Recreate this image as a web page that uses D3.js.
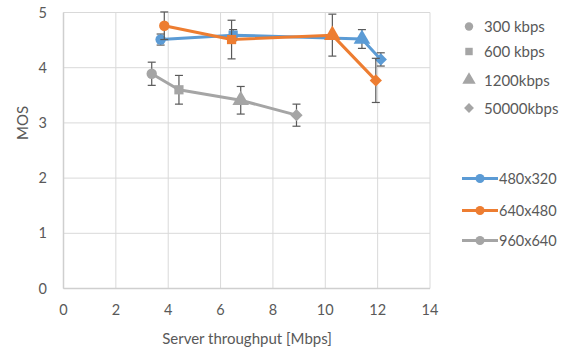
<!DOCTYPE html>
<html><head><meta charset="utf-8">
<script src="https://cdn.jsdelivr.net/npm/d3@7"></script>
<style>body{margin:0;background:#fff}svg{display:block}text{font-family:Lato,"Open Sans",sans-serif;fill:#595959}</style>
</head><body><svg id="c" width="568" height="351"></svg>
<script>
const bitrates = ["300 kbps","600 kbps","1200kbps","50000kbps"];
const shapes = ["circle","square","triangle","diamond"];
const resolutions = ["480x320","640x480","960x640"];
const colors = ["#5b9bd5","#ed7d31","#a5a5a5"];
const xTicks = [0,2,4,6,8,10,12,14];
const yTicks = [0,1,2,3,4,5];
// per resolution: x (Mbps), MOS, error
const blueX = [3.71,6.48,11.4,12.12], blueY = [4.51,4.59,4.52,4.15], blueE = [0.1,0.1,0.17,0.12];
const orangeX = [3.85,6.42,10.27,11.93], orangeY = [4.76,4.51,4.59,3.77], orangeE = [0.25,0.35,0.38,0.4];
const grayX = [3.37,4.41,6.77,8.9], grayY = [3.89,3.6,3.41,3.14], grayE = [0.21,0.26,0.25,0.2];
const seriesX=[blueX,orangeX,grayX], seriesY=[blueY,orangeY,grayY], seriesE=[blueE,orangeE,grayE];

const svg=d3.select("#c");
const x=d3.scaleLinear().domain([0,14]).range([63.5,430]);
const y=d3.scaleLinear().domain([0,5]).range([288.5,12.5]);
const g=svg.append("g");
g.selectAll(".vg").data(xTicks).join("line").attr("x1",d=>x(d)).attr("x2",d=>x(d)).attr("y1",y(0)).attr("y2",y(5)).attr("stroke","#d9d9d9").attr("stroke-width",1);
g.selectAll(".hg").data(yTicks).join("line").attr("y1",d=>y(d)).attr("y2",d=>y(d)).attr("x1",x(0)).attr("x2",x(14)).attr("stroke","#d9d9d9").attr("stroke-width",1);
g.append("line").attr("x1",x(0)).attr("x2",x(0)).attr("y1",y(0)).attr("y2",y(5)).attr("stroke","#cfcfcf").attr("stroke-width",1.5);
g.append("line").attr("x1",x(0)).attr("x2",x(14)).attr("y1",y(0)).attr("y2",y(0)).attr("stroke","#cfcfcf").attr("stroke-width",1.5);
g.selectAll(".xt").data(xTicks).join("text").attr("x",d=>x(d)).attr("y",315).attr("text-anchor","middle").attr("font-size",14.5).text(d=>d);
g.selectAll(".yt").data(yTicks).join("text").attr("x",47).attr("y",d=>y(d)+5).attr("text-anchor","end").attr("font-size",14.5).text(d=>d);
svg.append("text").attr("transform","translate(28,123) rotate(-90)").attr("text-anchor","middle").attr("font-size",15).text("MOS");
svg.append("text").attr("x",247).attr("y",344).attr("text-anchor","middle").attr("font-size",15).text("Server throughput [Mbps]");

const symType={circle:d3.symbolCircle,square:d3.symbolSquare,triangle:d3.symbolTriangle,diamond:d3.symbolSquare};
const symSize={circle:85,square:85,triangle:120,diamond:75};
function sym(s,scale=1){return d3.symbol().type(symType[s]).size(symSize[s]*scale)();}
function rot(s){return s==="diamond"?" rotate(45)":"";}

seriesX.forEach((xs,si)=>{
  const pts=xs.map((v,i)=>({x:v,y:seriesY[si][i],e:seriesE[si][i],s:shapes[i]}));
  const sg=svg.append("g");
  sg.append("path").datum(pts).attr("d",d3.line().x(d=>x(d.x)).y(d=>y(d.y))).attr("fill","none").attr("stroke",colors[si]).attr("stroke-width",3).attr("stroke-linejoin","round");
  pts.forEach(p=>{
    const ex=x(p.x);
    sg.append("line").attr("x1",ex).attr("x2",ex).attr("y1",y(p.y+p.e)).attr("y2",y(p.y-p.e)).attr("stroke","#595959").attr("stroke-width",1.2);
    [p.y+p.e,p.y-p.e].forEach(v=>sg.append("line").attr("x1",ex-4).attr("x2",ex+4).attr("y1",y(v)).attr("y2",y(v)).attr("stroke","#595959").attr("stroke-width",1.2));
  });
  pts.forEach(p=>{
    sg.append("path").attr("d",sym(p.s)).attr("transform",`translate(${x(p.x)},${y(p.y)})${rot(p.s)}`).attr("fill",colors[si]);
  });
});

const ly=[26.5,51.5,80,108];
bitrates.forEach((b,i)=>{
  svg.append("path").attr("d",sym(shapes[i],0.65)).attr("transform",`translate(469,${ly[i]})${rot(shapes[i])}`).attr("fill","#a5a5a5");
  svg.append("text").attr("x",484).attr("y",ly[i]+5.5).attr("font-size",15).text(b);
});
const ly2=[178.5,210.5,240.5];
resolutions.forEach((r,i)=>{
  svg.append("line").attr("x1",462).attr("x2",498).attr("y1",ly2[i]).attr("y2",ly2[i]).attr("stroke",colors[i]).attr("stroke-width",3);
  svg.append("circle").attr("cx",480).attr("cy",ly2[i]).attr("r",4.5).attr("fill",colors[i]);
  svg.append("text").attr("x",499).attr("y",ly2[i]+5).attr("font-size",14.5).text(r);
});
</script></body></html>
